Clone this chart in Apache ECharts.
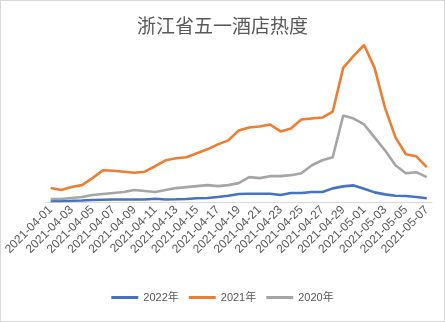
<!DOCTYPE html>
<html>
<head>
<meta charset="utf-8">
<script src="https://cdn.jsdelivr.net/npm/echarts@6/dist/echarts.min.js"></script>
<style>
html,body{margin:0;padding:0;background:#fff;}
#c{width:443px;height:320px;border:1px solid #d9d9d9;}
</style>
</head>
<body>
<div id="c"></div>
<script>
const dates = ["2021-04-01","2021-04-02","2021-04-03","2021-04-04","2021-04-05","2021-04-06","2021-04-07","2021-04-08","2021-04-09","2021-04-10","2021-04-11","2021-04-12","2021-04-13","2021-04-14","2021-04-15","2021-04-16","2021-04-17","2021-04-18","2021-04-19","2021-04-20","2021-04-21","2021-04-22","2021-04-23","2021-04-24","2021-04-25","2021-04-26","2021-04-27","2021-04-28","2021-04-29","2021-04-30","2021-05-01","2021-05-02","2021-05-03","2021-05-04","2021-05-05","2021-05-06","2021-05-07"];
const s2022 = [1,1,1.2,1.5,2,2.3,2.5,2.5,2.5,2.5,3.3,2.5,2.7,3,3.7,4,5,6.3,8,8.3,8.3,8.3,7,9,9,10,10,13.7,15.7,16.7,13.3,9.7,7.7,6.3,6,5,3.7];
const s2021 = [14,12,15,17,24,32,31.5,30.5,29.5,30.5,36,42,44,45,49,53,58,62,72,75,76,78,71,74,83,84,85,91,135,147,158,135,95,65,48,46,35];
const s2020 = [3,3,4,5,7,8,9,10,12,11,10,12,14,15,16,17,16,17,19,25,24,26,26,27,29,37,42,45,87,84,78,65,52,37,29,30,25];
const seriesNames = ["2022年","2021年","2020年"];
const colors = ["#4472C4","#ED7D31","#A5A5A5"];

const chart = echarts.init(document.getElementById('c'));
const mk = (name, data, color) => ({
  name, type:'line', data, symbol:'none', smooth:false,
  lineStyle:{width:2.6, color}, itemStyle:{color}
});
chart.setOption({
  animation:false,
  title:{text:'浙江省五一酒店热度', left:'center', top:10,
    textStyle:{fontFamily:'Noto Sans CJK SC', fontSize:19, fontWeight:'normal', color:'#595959'}},
  legend:{bottom:13, left:'center', icon:'rect', itemWidth:27, itemHeight:3, itemGap:10,
    textStyle:{fontFamily:'Liberation Sans, Noto Sans CJK SC', fontSize:11, color:'#595959'},
    data:seriesNames},
  grid:{left:39, right:12, top:42, bottom:119, containLabel:false},
  xAxis:{type:'category', data:dates, boundaryGap:true,
    axisLine:{lineStyle:{color:'#d9d9d9'}}, axisTick:{show:false},
    axisLabel:{interval:1, rotate:45, fontSize:12, color:'#595959', fontFamily:'Liberation Sans', margin:6}},
  yAxis:{type:'value', min:0, max:160, show:false, splitLine:{show:false}},
  series:[mk(seriesNames[0], s2022, colors[0]), mk(seriesNames[1], s2021, colors[1]), mk(seriesNames[2], s2020, colors[2])]
});
</script>
</body>
</html>
